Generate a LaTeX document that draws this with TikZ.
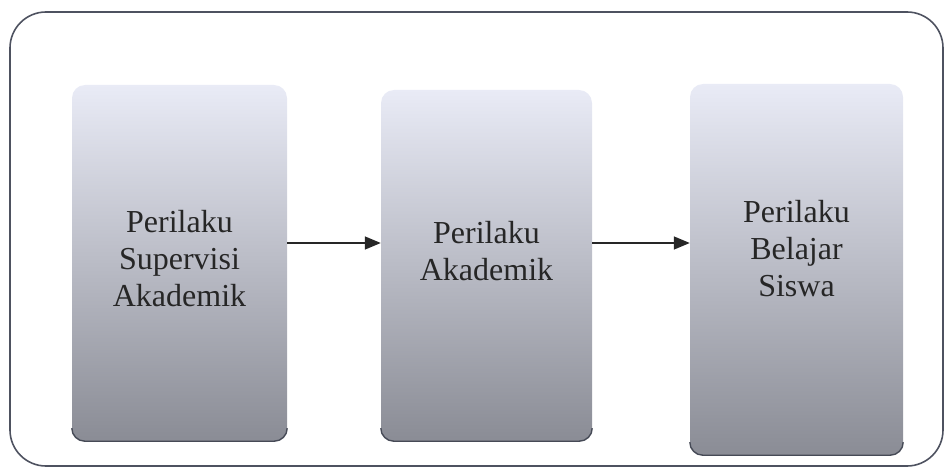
\documentclass[tikz,border=0pt]{standalone}
\usepackage{fontspec}
\setmainfont{Liberation Serif}
\usetikzlibrary{arrows.meta}

\definecolor{boxtop}{HTML}{E9EBF6}
\definecolor{boxbot}{HTML}{8A8C95}
\definecolor{framec}{HTML}{4E5260}
\tikzset{
  boxshade/.style={rounded corners=13pt, top color=boxtop, bottom color=boxbot, draw=none, inner sep=0},
  boxtext/.style={align=center, font=\fontsize{32}{37}\selectfont, text=black!85},
  arr/.style={line width=1.5pt, draw=black!85, -{Triangle[length=16pt,width=13pt]}}
}

\begin{document}
\begin{tikzpicture}[x=1pt, y=-1pt]
        \useasboundingbox (0,0) rectangle (948,473);
        % outer frame
        \draw[framec, line width=1.6pt, rounded corners=36pt] (10,12) rectangle (943,466);
        % three shaded boxes
        \node[boxshade, minimum width=215pt, minimum height=356pt] (box1) at (179.5,263) {};
        \node[boxshade, minimum width=211pt, minimum height=351pt] (box2) at (486.5,265.5) {};
        \node[boxshade, minimum width=213pt, minimum height=371pt] (box3) at (796.5,269.5) {};
        % dark lower edge of each box
        \foreach \b in {box1,box2,box3}
          \draw[framec!90!black, line width=1.4pt, rounded corners=13pt]
            ([yshift=13pt]\b.south west) -- (\b.south west) -- (\b.south east) -- ([yshift=13pt]\b.south east);
        % labels
        \node[boxtext] (t1) at (179.5,259) {Perilaku\\Supervisi\\Akademik};
        \node[boxtext] (t2) at (486.5,251) {Perilaku\\Akademik};
        \node[boxtext] (t3) at (796.5,249) {Perilaku\\Belajar\\Siswa};
        % arrows
        \draw[arr] (box1.east |- 0,243) -- (box2.west |- 0,243);
        \draw[arr] (box2.east |- 0,243) -- (box3.west |- 0,243);
      \end{tikzpicture}
\end{document}
